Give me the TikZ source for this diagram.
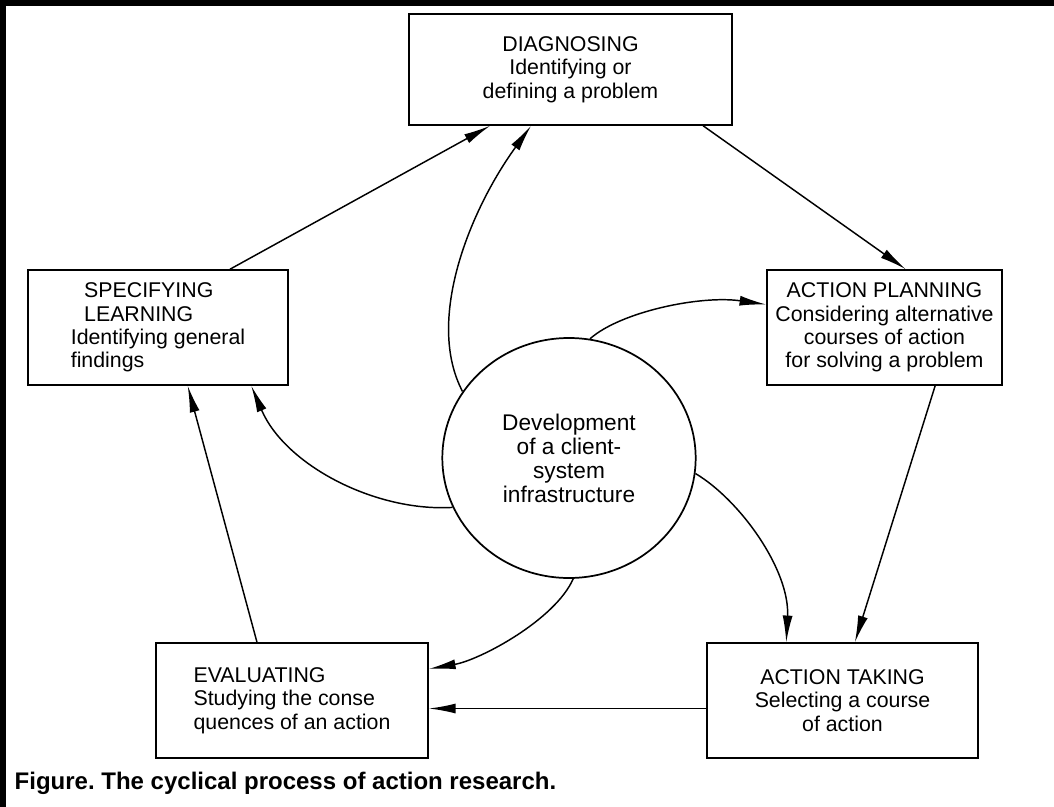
\documentclass[tikz,border=0pt]{standalone}
\usepackage{fontspec}
\setmainfont{Liberation Sans}
\usetikzlibrary{arrows.meta, shapes.geometric}

\tikzset{
  stage/.style={draw, line width=1.4pt, align=center, inner sep=3pt},
  hub/.style={draw, ellipse, line width=1.3pt, align=center, inner sep=0pt,
    minimum width=190pt, minimum height=180pt, font=\fontsize{17}{18}\selectfont},
  flow/.style={line width=1.1pt, -{Latex[length=20pt,width=7.5pt]}},
}

\begin{document}
\begin{tikzpicture}[x=0.75pt, y=-0.75pt, font=\fontsize{16}{17.5}\selectfont]
\useasboundingbox (0,0) rectangle (1054,807);
\fill (0,0) rectangle (1054,6);
\fill (0,0) rectangle (6,807);

\node[stage, minimum width=242pt, minimum height=83pt] (diag) at (570.5,69.5)
  {DIAGNOSING\\Identifying or\\defining a problem};
\node[stage, minimum width=176pt, minimum height=86pt] (plan) at (884.5,327.5)
  {ACTION PLANNING\\Considering alternative\\courses of action\\for solving a problem};
\node[stage, align=left, minimum width=195pt, minimum height=86pt] (learn) at (158,327.5)
  {\hspace*{10pt}SPECIFYING\\\hspace*{10pt}LEARNING\\Identifying general\\findings};
\node[stage, align=left, minimum width=204pt, minimum height=86pt] (eval) at (292,700.5)
  {EVALUATING\\Studying the conse\\quences of an action};
\node[stage, minimum width=203pt, minimum height=86pt] (take) at (842.5,700.5)
  {ACTION TAKING\\Selecting a course\\of action};
\node[hub] (circ) at (569,458) {Development\\of a client-\\system\\infrastructure};

\draw[flow] (learn.39) -- (diag.215);
\draw[flow] (diag.-23) -- (plan.70);
\draw[flow] (plan.-49) -- (take.78);
\coordinate (tw) at ([yshift=-6pt]take.west);
\draw[flow] (tw) -- (tw -| eval.east);
\draw[flow] (eval.121) -- (learn.-63);

% arrows out of the infrastructure circle
\draw[flow] (circ.148) .. controls (425,320) and (470,210) .. (diag.235);
\draw[flow] (circ.80) .. controls (620,312) and (700,295) .. (plan.169);
\draw[flow] (circ.203) .. controls (375,512) and (285,465) .. (learn.-32);
\draw[flow] (circ.-7) .. controls (740,500) and (790,570) .. (take.134);
\draw[flow] (circ.-88) .. controls (555,620) and (480,660) .. (eval.13);

\node[anchor=base west, font=\fontsize{18}{20}\selectfont\bfseries] (caption) at (10,789)
  {Figure.\ The cyclical process of action research.};
\end{tikzpicture}
\end{document}
